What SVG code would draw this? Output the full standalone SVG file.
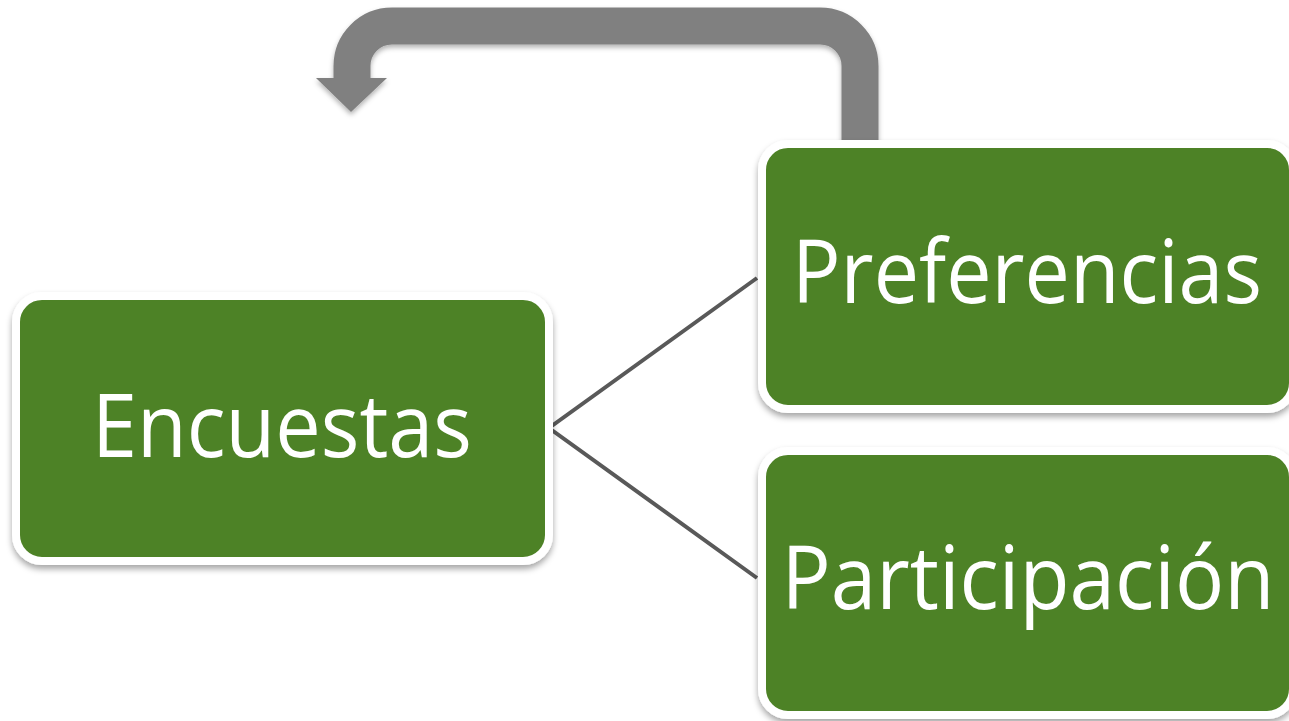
<svg xmlns="http://www.w3.org/2000/svg" width="1289" height="721" viewBox="0 0 1289 721">
<defs>
<style>
.box{fill:#4e8226;stroke:#ffffff;stroke-width:8}
.lbl{font-family:"Open Sans","Noto Sans",sans-serif;font-size:88px;fill:#ffffff;text-anchor:middle}
.conn{stroke:#595959;stroke-width:4;fill:none}
</style>
<filter id="sh" x="-10%" y="-10%" width="120%" height="125%">
<feDropShadow dx="0" dy="4" stdDeviation="3" flood-color="#000" flood-opacity="0.35"/>
</filter>
<filter id="sh2" x="-10%" y="-20%" width="120%" height="150%">
<feDropShadow dx="0" dy="3" stdDeviation="2.5" flood-color="#000" flood-opacity="0.3"/>
</filter>
</defs>
<rect width="1289" height="721" fill="#ffffff"/>
<g id="connectors">
<polyline class="conn" points="757,278 549,428 757,578"/>
<g filter="url(#sh2)">
<path d="M 860 146 V 66 A 40 40 0 0 0 820 26 H 392 A 40 40 0 0 0 352 66 V 79" fill="none" stroke="#808080" stroke-width="37"/>
<polygon points="316,78 387,78 351,112" fill="#808080"/>
</g>
</g>
<g id="node-encuestas">
<rect class="box" x="16" y="296" width="533" height="265" rx="26" filter="url(#sh)"/>
<text class="lbl" x="282" y="457" textLength="380" lengthAdjust="spacingAndGlyphs">Encuestas</text>
</g>
<g id="node-preferencias">
<rect class="box" x="762" y="144" width="531" height="265" rx="26" filter="url(#sh)"/>
<text class="lbl" x="1027" y="303" textLength="470" lengthAdjust="spacingAndGlyphs">Preferencias</text>
</g>
<g id="node-participacion">
<rect class="box" x="762" y="451" width="531" height="264" rx="26" filter="url(#sh)"/>
<text class="lbl" x="1028" y="609" textLength="493" lengthAdjust="spacingAndGlyphs">Participación</text>
</g>
</svg>
